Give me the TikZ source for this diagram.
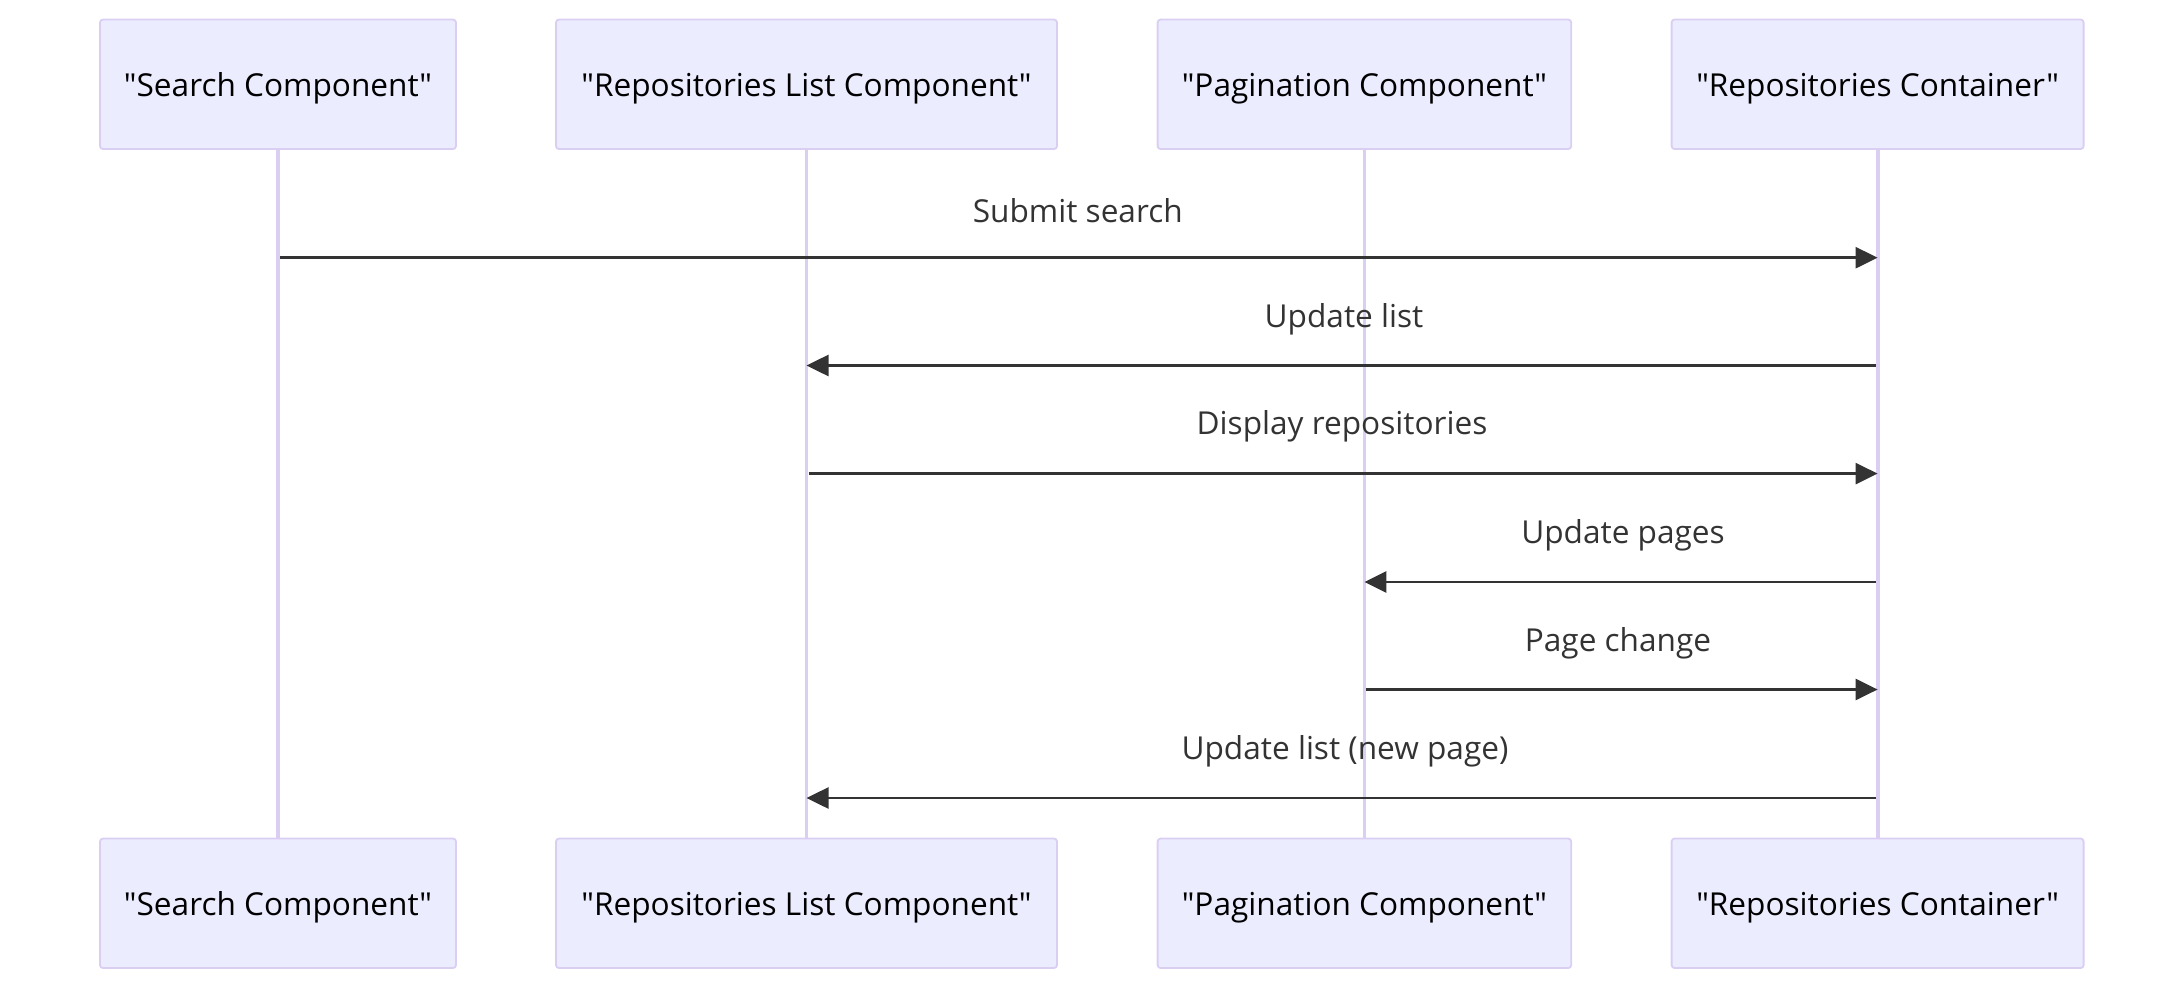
\documentclass[tikz,border=0pt]{standalone}
\usepackage{fontspec}
\newfontfamily\osans{Open Sans}
\usetikzlibrary{arrows.meta}
\definecolor{actbg}{HTML}{ECECFF}
\definecolor{actbd}{RGB}{218,206,243}
\definecolor{msg}{HTML}{333333}
\begin{document}
\begin{tikzpicture}[x=0.5pt,y=-0.5pt,
  actor/.style={draw=actbd,fill=actbg,line width=0.9pt,rounded corners=1.5pt,
    minimum height=64.75pt,inner sep=0pt,font=\osans\fontsize{15.8}{18}\selectfont,text=black},
  atext/.style={font=\osans\fontsize{15.8}{18}\selectfont,text=black,inner sep=0pt},
  life/.style={draw=actbd,line width=1.9pt},
  message/.style={draw=msg,line width=1.3pt,-{Triangle[length=11pt,width=10.5pt]}},
  mlabel/.style={font=\osans\fontsize{15.8}{18}\selectfont,text=msg,inner sep=0pt}]
\useasboundingbox (0,0) rectangle (2184,990);
% lifelines first
\coordinate (sT) at (278,149); \coordinate (sB) at (278,838.5);
\coordinate (rT) at (806.5,149); \coordinate (rB) at (806.5,838.5);
\coordinate (pT) at (1364.4,149); \coordinate (pB) at (1364.4,838.5);
\coordinate (cT) at (1877.6,149); \coordinate (cB) at (1877.6,838.5);
\draw[life] (sT) -- (sB);
\draw[life] (rT) -- (rB);
\draw[life] (pT) -- (pB);
\draw[life] (cT) -- (cB);
% actors
\node[actor,minimum width=178pt] (s1) at (278,84.3) {};
\node[actor,minimum width=250.5pt] (r1) at (806.5,84.3) {};
\node[actor,minimum width=206.8pt] (p1) at (1364.4,84.3) {};
\node[actor,minimum width=206pt] (c1) at (1877.6,84.3) {};
\node[actor,minimum width=178pt] (s2) at (278,903.3) {};
\node[actor,minimum width=250.5pt] (r2) at (806.5,903.3) {};
\node[actor,minimum width=206.8pt] (p2) at (1364.4,903.3) {};
\node[actor,minimum width=206pt] (c2) at (1877.6,903.3) {};
\node[atext] (ts1) at ([yshift=-2pt]s1.center) {"Search Component"};
\node[atext] (tr1) at ([yshift=-2pt]r1.center) {"Repositories List Component"};
\node[atext] (tp1) at ([yshift=-2pt]p1.center) {"Pagination Component"};
\node[atext] (tc1) at ([yshift=-2pt]c1.center) {"Repositories Container"};
\node[atext] (ts2) at ([yshift=-2pt]s2.center) {"Search Component"};
\node[atext] (tr2) at ([yshift=-2pt]r2.center) {"Repositories List Component"};
\node[atext] (tp2) at ([yshift=-2pt]p2.center) {"Pagination Component"};
\node[atext] (tc2) at ([yshift=-2pt]c2.center) {"Repositories Container"};
% message anchors
\coordinate (m1a) at (280,257.7); \coordinate (m1b) at (1877.6,257.7);
\coordinate (m2a) at (1876,365.5); \coordinate (m2b) at (806.5,365.5);
\coordinate (m3a) at (808.5,473.6); \coordinate (m3b) at (1877.6,473.6);
\coordinate (m4a) at (1876,582); \coordinate (m4b) at (1364.4,582);
\coordinate (m5a) at (1366.4,689.5); \coordinate (m5b) at (1877.6,689.5);
\coordinate (m6a) at (1876,798); \coordinate (m6b) at (806.5,798);
\draw[message] (m1a) -- (m1b);
\draw[message] (m2a) -- (m2b);
\draw[message] (m3a) -- (m3b);
\draw[message] (m4a) -- (m4b);
\draw[message] (m5a) -- (m5b);
\draw[message] (m6a) -- (m6b);
\node[mlabel] (l1) at (1077.8,210.5) {Submit search};
\node[mlabel] (l2) at (1344,319) {Update list};
\node[mlabel] (l3) at (1342,426.3) {Display repositories};
\node[mlabel] (l4) at (1623,535) {Update pages};
\node[mlabel] (l5) at (1618,643.5) {Page change};
\node[mlabel] (l6) at (1345,751) {Update list (new page)};
\end{tikzpicture}
\end{document}
